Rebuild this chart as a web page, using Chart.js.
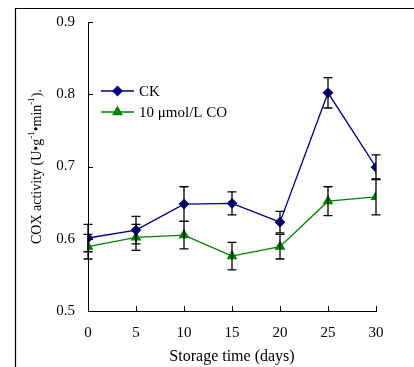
<!DOCTYPE html>
<html>
<head>
<meta charset="utf-8">
<script src="https://cdn.jsdelivr.net/npm/chart.js@4/dist/chart.umd.min.js"></script>
<style>
html,body{margin:0;padding:0;background:#fff;}
#wrap{position:relative;width:414px;height:367px;}
</style>
</head>
<body>
<div id="wrap"><canvas id="c" width="414" height="367"></canvas></div>
<script>
// ---- data ----
const days = [0, 5, 10, 15, 20, 25, 30];
const ckValues = [0.601, 0.612, 0.648, 0.649, 0.623, 0.802, 0.699];
const ckErrors = [0.019, 0.019, 0.024, 0.016, 0.015, 0.021, 0.017];
const coValues = [0.589, 0.602, 0.605, 0.576, 0.589, 0.652, 0.658];
const coErrors = [0.017, 0.018, 0.019, 0.019, 0.017, 0.020, 0.025];
const seriesNames = ['CK', '10 \u03bcmol/L CO'];
const yTicks = [0.5, 0.6, 0.7, 0.8, 0.9];
const xTitle = 'Storage time (days)';
// y title pieces: [text, isSuperscript]
const yTitleParts = [['COX activity (U\u2022g', false], ['-1', true], ['\u2022min', false], ['-1', true], [').', false]];

const FONT = 'Liberation Serif';
Chart.defaults.font.family = FONT;
Chart.defaults.font.size = 15;
Chart.defaults.color = '#000';

const NAVY = '#000080';
const GREEN = '#008000';

const errorBarPlugin = {
  id: 'errorBars',
  afterDatasetsDraw(chart) {
    const {ctx, scales: {x, y}} = chart;
    const sets = [[ckValues, ckErrors], [coValues, coErrors]];
    ctx.save();
    ctx.strokeStyle = '#000';
    ctx.lineWidth = 1.3;
    sets.forEach(([vals, errs]) => {
      vals.forEach((v, i) => {
        const px = x.getPixelForValue(days[i]);
        const top = y.getPixelForValue(v + errs[i]);
        const bot = y.getPixelForValue(v - errs[i]);
        ctx.beginPath();
        ctx.moveTo(px, top); ctx.lineTo(px, bot);
        ctx.moveTo(px - 4.5, top); ctx.lineTo(px + 4.5, top);
        ctx.moveTo(px - 4.5, bot); ctx.lineTo(px + 4.5, bot);
        ctx.stroke();
      });
    });
    ctx.restore();
  }
};

const decorPlugin = {
  id: 'decor',
  beforeDraw(chart) {
    const {ctx} = chart;
    ctx.save();
    ctx.strokeStyle = '#000';
    ctx.lineWidth = 1.2;
    ctx.beginPath();
    ctx.moveTo(15.5, 367); ctx.lineTo(15.5, 8.5); ctx.lineTo(414, 8.5);
    ctx.stroke();
    ctx.restore();
  },
  afterDraw(chart) {
    const {ctx, scales: {x, y}, chartArea} = chart;
    ctx.save();
    ctx.strokeStyle = '#000';
    ctx.lineWidth = 1;
    ctx.beginPath();
    // inward ticks
    yTicks.forEach(t => {
      const py = Math.round(y.getPixelForValue(t)) + 0.5;
      ctx.moveTo(chartArea.left, py); ctx.lineTo(chartArea.left + 5, py);
    });
    days.forEach(d => {
      const px = Math.round(x.getPixelForValue(d)) + 0.5;
      ctx.moveTo(px, chartArea.bottom); ctx.lineTo(px, chartArea.bottom - 5);
    });
    ctx.stroke();

    // y-axis title with superscripts
    const mainFont = '14px "' + FONT + '"';
    const supFont = '9px "' + FONT + '"';
    let total = 0;
    yTitleParts.forEach(([t, sup]) => { ctx.font = sup ? supFont : mainFont; total += ctx.measureText(t).width; });
    ctx.save();
    ctx.translate(37, (chartArea.top + chartArea.bottom) / 2);
    ctx.rotate(-Math.PI / 2);
    ctx.fillStyle = '#000';
    ctx.textBaseline = 'middle';
    ctx.textAlign = 'left';
    let cx = -total / 2;
    yTitleParts.forEach(([t, sup]) => {
      ctx.font = sup ? supFont : mainFont;
      ctx.fillText(t, cx, sup ? -5 : 0);
      cx += ctx.measureText(t).width;
    });
    ctx.restore();

    // legend
    const rows = [
      {name: seriesNames[0], color: NAVY, style: 'rectRot', y: 91},
      {name: seriesNames[1], color: GREEN, style: 'triangle', y: 112}
    ];
    ctx.font = '15px "' + FONT + '"';
    ctx.textBaseline = 'middle';
    ctx.textAlign = 'left';
    rows.forEach(r => {
      ctx.strokeStyle = r.color;
      ctx.lineWidth = 1.4;
      ctx.beginPath();
      ctx.moveTo(101, r.y); ctx.lineTo(134, r.y);
      ctx.stroke();
      ctx.fillStyle = r.color;
      Chart.helpers.drawPoint(ctx, {pointStyle: r.style, radius: r.style === 'triangle' ? 5 : 4.5, borderWidth: 1, rotation: 0}, 117.5, r.y);
      ctx.fillStyle = '#000';
      ctx.fillText(r.name, 139, r.y + 1);
    });
    ctx.restore();
  }
};

new Chart(document.getElementById('c'), {
  type: 'line',
  data: {
    datasets: [
      {
        label: seriesNames[0],
        data: days.map((d, i) => ({x: d, y: ckValues[i]})),
        borderColor: NAVY, backgroundColor: NAVY,
        borderWidth: 1.3, pointStyle: 'rectRot', pointRadius: 4.5,
        pointBorderColor: NAVY, pointBackgroundColor: NAVY, tension: 0
      },
      {
        label: seriesNames[1],
        data: days.map((d, i) => ({x: d, y: coValues[i]})),
        borderColor: GREEN, backgroundColor: GREEN,
        borderWidth: 1.3, pointStyle: 'triangle', pointRadius: 5,
        pointBorderColor: GREEN, pointBackgroundColor: GREEN, tension: 0
      }
    ]
  },
  options: {
    responsive: false,
    devicePixelRatio: 1,
    animation: false,
    layout: {padding: {top: 21, right: 38, left: 0, bottom: 0}},
    plugins: {legend: {display: false}, tooltip: {enabled: false}},
    scales: {
      x: {
        type: 'linear', min: 0, max: 30,
        afterFit(s) { s.height = 56; },
        afterBuildTicks(s) { s.ticks = days.map(v => ({value: v})); },
        grid: {display: false, drawTicks: false},
        border: {display: true, color: '#000', width: 1},
        ticks: {padding: 13, maxRotation: 0, font: {size: 15}, color: '#000'},
        title: {display: true, text: xTitle, font: {size: 16}, color: '#000', padding: {top: 0, bottom: 1}}
      },
      y: {
        min: 0.5, max: 0.9,
        afterFit(s) { s.width = 88; },
        afterBuildTicks(s) { s.ticks = yTicks.map(v => ({value: v})); },
        grid: {display: false, drawTicks: false},
        border: {display: true, color: '#000', width: 1},
        ticks: {padding: 13, font: {size: 15}, color: '#000', callback: v => v.toFixed(1)},
        title: {display: false}
      }
    }
  },
  plugins: [errorBarPlugin, decorPlugin]
});
</script>
</body>
</html>
